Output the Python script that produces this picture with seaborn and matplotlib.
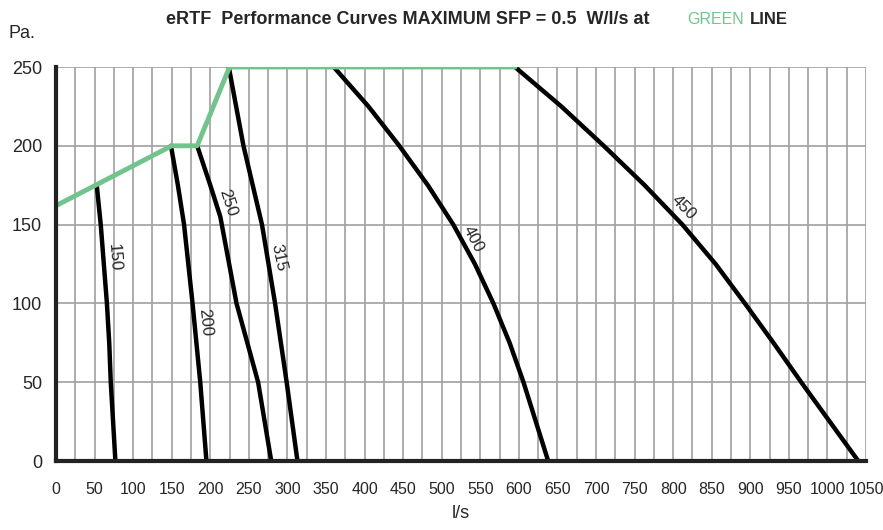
import pandas as pd
import seaborn as sns
import matplotlib.pyplot as plt

# Max SFP boundary (green line)
green_x = [0, 150, 183, 225, 595]
green_y = [162, 200, 200, 250, 250]

# Fan curves, flow l/s vs pressure Pa
c150_x = [53, 58, 62, 66, 69, 71, 77]
c150_y = [174, 150, 125, 100, 75, 50, 0]
c200_x = [149, 158, 166, 177, 187, 195]
c200_y = [200, 175, 150, 100, 50, 0]
c250_x = [183, 200, 213, 234, 262, 279]
c250_y = [200, 175, 155, 100, 50, 0]
c315_x = [224, 243, 267, 284, 299, 313]
c315_y = [250, 200, 150, 100, 50, 0]
c400_x = [360, 405, 445, 482, 515, 543, 567, 588, 606, 622, 638]
c400_y = [250, 225, 200, 175, 150, 125, 100, 75, 50, 25, 0]
c450_x = [595, 655, 710, 763, 812, 855, 893, 930, 966, 1003, 1040]
c450_y = [250, 225, 200, 175, 150, 125, 100, 75, 50, 25, 0]

sizes = ['150', '200', '250', '315', '400', '450']
# label positions (x, y, rotation)
lab_x = [75, 193, 222, 288, 541, 813]
lab_y = [129, 88, 164, 129, 141, 161]
lab_rot = [-86, -84, -72, -78, -62, -45]

curves = [(c150_x, c150_y), (c200_x, c200_y), (c250_x, c250_y),
          (c315_x, c315_y), (c400_x, c400_y), (c450_x, c450_y)]
rows = []
for name, (xs, ys) in zip(sizes, curves):
    for x, y in zip(xs, ys):
        rows.append({'size': name, 'flow': x, 'pressure': y})
df = pd.DataFrame(rows)
green_df = pd.DataFrame({'flow': green_x, 'pressure': green_y})

sns.set_style("white")
plt.rcParams['font.family'] = ['Liberation Sans', 'DejaVu Sans']

fig = plt.figure(figsize=(8.83, 5.30), dpi=100)
ax = fig.add_axes([56 / 883, 69 / 530, 810 / 883, 394 / 530])

GREEN = '#72c38c'

# grid
for v in range(25, 1051, 25):
    ax.axvline(v, color='#a0a0a0', lw=1.2, zorder=0)
for v in range(50, 251, 50):
    ax.axhline(v, color='#a0a0a0', lw=1.2, zorder=0)

sns.lineplot(data=df, x='flow', y='pressure', units='size', estimator=None,
             sort=False, color='black', lw=3.2, ax=ax, zorder=3)
sns.lineplot(data=green_df, x='flow', y='pressure', sort=False,
             color=GREEN, lw=3.5, ax=ax, zorder=4)

for name, x, y, r in zip(sizes, lab_x, lab_y, lab_rot):
    ax.text(x, y, name, rotation=r, ha='center', va='center', fontsize=12,
            rotation_mode='anchor', zorder=5)

ax.set_xlim(0, 1050)
ax.set_ylim(0, 250)
ax.set_xticks(range(0, 1051, 50))
ax.set_yticks(range(0, 251, 50))
ax.tick_params(axis='x', labelsize=11.5, length=0, pad=15)
ax.tick_params(axis='y', labelsize=13, length=0, pad=10)
ax.set_xlabel('l/s', fontsize=13, labelpad=6)
ax.set_ylabel('')

for s in ['top', 'right']:
    ax.spines[s].set_visible(False)
for s in ['left', 'bottom']:
    ax.spines[s].set_color('#222222')
    ax.spines[s].set_linewidth(3)
    ax.spines[s].set_zorder(6)

fig.text(8 / 883, 1 - 33 / 530, 'Pa.', fontsize=13, va='center', ha='left')
fig.text(650 / 883, 1 - 20 / 530, 'eRTF  Performance Curves MAXIMUM SFP = 0.5  W/l/s at',
         fontsize=13, fontweight='bold', ha='right', va='center')
fig.text(687 / 883, 1 - 20 / 530, 'GREEN', fontsize=11.5, color=GREEN, ha='left', va='center')
fig.text(750 / 883, 1 - 20 / 530, 'LINE', fontsize=12, fontweight='bold', ha='left', va='center')

fig.savefig('out.png', dpi=100)
